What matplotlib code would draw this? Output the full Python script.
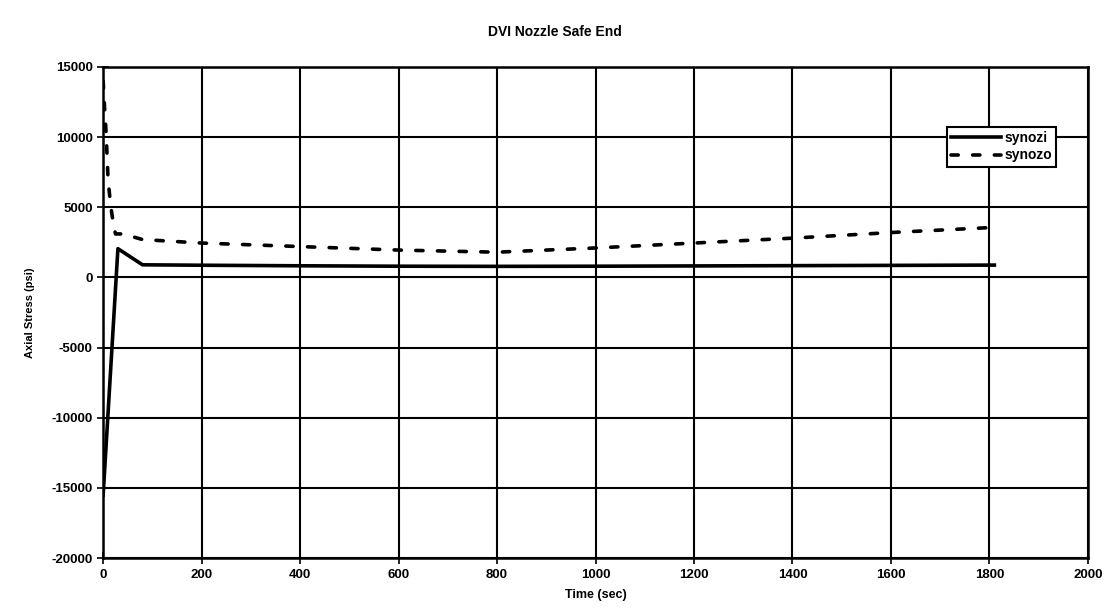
import numpy as np
import matplotlib.pyplot as plt

plt.rcParams['font.family'] = ['Liberation Sans', 'DejaVu Sans']
plt.rcParams['axes.unicode_minus'] = False

# synozi (inside surface)
t_i = [0, 30, 80, 200, 400, 600, 800, 1000, 1200, 1400, 1600, 1810]
s_i = [-15500, 2050, 900, 870, 830, 800, 790, 800, 820, 840, 860, 880]

# synozo (outside surface)
t_o = [0, 3, 6, 10, 15, 20, 25, 40, 80, 200, 400, 600, 800, 1000, 1200, 1400, 1600, 1800]
s_o = [14000, 12000, 10300, 7000, 5200, 4000, 3100, 3100, 2700, 2450, 2200, 1950, 1800, 2100, 2450, 2800, 3200, 3550]

fig = plt.figure(figsize=(11.09, 6.14), dpi=100)
ax = fig.add_axes([0.093, 0.091, 0.888, 0.8])

ax.plot(t_i, s_i, color='black', lw=2.6, label='synozi', zorder=3)
ax.plot(t_o, s_o, color='black', lw=2.6, ls=(0, (2, 4)), dash_capstyle='round',
        label='synozo', zorder=3)

ax.set_xlim(0, 2000)
ax.set_ylim(-20000, 15000)
ax.set_xticks(np.arange(0, 2001, 200))
ax.set_yticks(np.arange(-20000, 15001, 5000))
ax.grid(True, color='black', lw=1.5)
for sp in ax.spines.values():
    sp.set_linewidth(1.8)
ax.tick_params(direction='inout', length=8, width=1.2, labelsize=9.5)
for lab in ax.get_xticklabels() + ax.get_yticklabels():
    lab.set_fontweight('bold')

ax.set_xlabel('Time (sec)', fontsize=9, fontweight='bold', labelpad=6)
ax.set_ylabel('Axial Stress (psi)', fontsize=8, fontweight='bold', labelpad=12)
fig.suptitle('DVI Nozzle Safe End', fontsize=10, fontweight='bold', y=0.96)

leg = ax.legend(loc='upper right', bbox_to_anchor=(0.9675, 0.878), fontsize=10,
                frameon=True, fancybox=False, handlelength=3.6, borderpad=0.3,
                labelspacing=0.25, handletextpad=0.2, borderaxespad=0)
leg.get_frame().set_edgecolor('black')
leg.get_frame().set_linewidth(1.5)
leg.get_frame().set_alpha(1)
for txt in leg.get_texts():
    txt.set_fontweight('bold')

fig.savefig('out.png', dpi=100, facecolor='white')
